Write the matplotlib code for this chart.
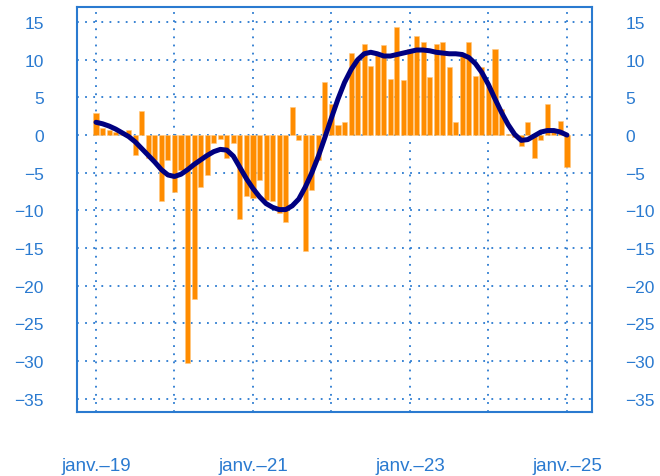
import matplotlib
matplotlib.use("Agg")
import matplotlib.pyplot as plt
import numpy as np

# monthly values, janv. 2019 -> janv. 2025
bars = [2.9, 0.9, 0.7, 0.4, 0.2, 0.7, -2.7, 3.2, -3.0, -3.3, -8.8, -3.3,
        -7.5, -4.7, -30.3, -21.8, -6.9, -5.3, -1.0, -0.5, -3.1, -1.1, -11.1, -8.1,
        -8.3, -6.0, -8.6, -8.8, -10.3, -11.5, 3.7, -0.6, -15.4, -7.3, -3.3, 7.1,
        4.1, 1.3, 1.7, 10.9, 9.9, 12.1, 9.2, 10.7, 12.0, 7.4, 14.4, 7.3,
        11.5, 13.1, 12.3, 7.7, 12.1, 12.3, 9.1, 1.7, 10.8, 12.3, 7.9, 9.1,
        6.5, 11.5, 3.5, 0.2, -0.3, -1.4, 1.7, -3.0, -0.6, 4.1, 0.7, 1.9,
        -4.3]
trend = [1.7, 1.5, 1.2, 0.8, 0.3, -0.2, -0.9, -1.8, -2.7, -3.6, -4.6, -5.3,
         -5.5, -5.2, -4.6, -3.9, -3.3, -2.7, -2.2, -1.9, -2.0, -2.8, -4.3, -5.8,
         -7.1, -8.2, -9.1, -9.6, -9.9, -9.9, -9.4, -8.5, -6.9, -5.0, -2.8, -0.3,
         2.3, 4.8, 7.0, 8.7, 10.0, 10.8, 11.0, 10.8, 10.5, 10.5, 10.7, 10.9,
         11.1, 11.3, 11.3, 11.2, 11.0, 10.9, 10.8, 10.8, 10.7, 10.3, 9.5, 8.3,
         6.7, 4.8, 3.0, 1.4, 0.1, -0.7, -0.6, -0.1, 0.4, 0.6, 0.6, 0.4,
         0.0]
year_ticks = [0, 12, 24, 36, 48, 60, 72]
year_labels = ['janv.–19', '', 'janv.–21', '', 'janv.–23', '', 'janv.–25']
y_ticks = [15, 10, 5, 0, -5, -10, -15, -20, -25, -30, -35]

blue = '#2a7ad0'
plt.rcParams['font.family'] = ['Liberation Sans', 'DejaVu Sans']
plt.rcParams['axes.unicode_minus'] = True

fig = plt.figure(figsize=(6.6, 4.77), dpi=100)
ax = fig.add_axes([0.1167, 0.134, 0.78, 0.849])

x = np.arange(len(bars))
ax.bar(x, bars, width=0.78, color='#ff8c00', edgecolor='#ffc880', linewidth=0.4, zorder=2)
ax.plot(x, trend, color='#000080', linewidth=3.6, solid_capstyle='round', zorder=3)

ax.set_xlim(-2.9, 75.8)
ax.set_ylim(-36.8, 17.0)
ax.set_xticks(year_ticks)
ax.set_xticklabels(year_labels)
ax.set_yticks(y_ticks)

ax.grid(True, color=blue, linestyle=(0, (1, 3.5)), linewidth=1.3, zorder=1)
ax.set_axisbelow(True)
for s in ax.spines.values():
    s.set_color(blue)
    s.set_linewidth(1.5)

ax.tick_params(axis='y', length=0, pad=24, labelsize=12.5, labelcolor=blue,
               labelright=True)
ax.tick_params(axis='x', length=0, pad=32, labelsize=13.5, labelcolor=blue)

fig.savefig('out.png', dpi=100)
